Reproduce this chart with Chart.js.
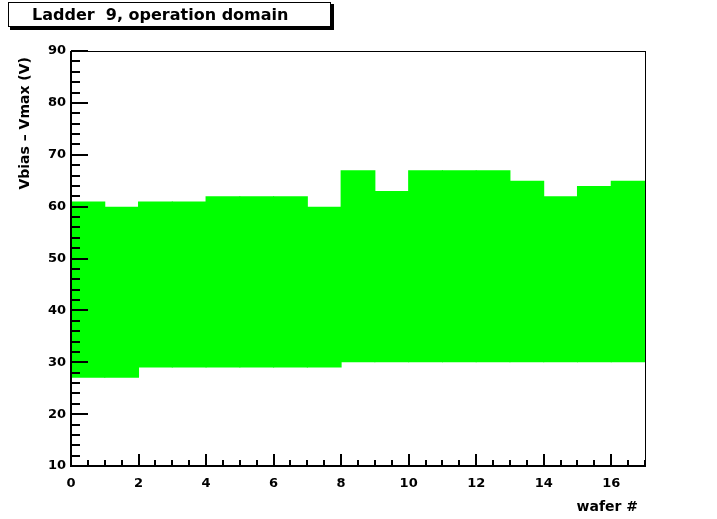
<!DOCTYPE html>
<html>
<head>
<meta charset="utf-8">
<script src="https://cdn.jsdelivr.net/npm/chart.js@4"></script>
<style>
  html, body { margin: 0; padding: 0; background: #fff; }
  canvas { display: block; }
</style>
</head>
<body>
<canvas id="domainChart" width="717" height="519"></canvas>
<script>
// wafer bins 0..16, each 1 wide
const wafers = [0, 1, 2, 3, 4, 5, 6, 7, 8, 9, 10, 11, 12, 13, 14, 15, 16];
const vLow  = [27, 27, 29, 29, 29, 29, 29, 29, 30, 30, 30, 30, 30, 30, 30, 30, 30];
const vHigh = [61, 60, 61, 61, 62, 62, 62, 60, 67, 63, 67, 67, 67, 65, 62, 64, 65];

const titleText = "Ladder  9, operation domain";
const xTitle = "wafer #";
const yTitle = "Vbias \u2013 Vmax (V)";

const FONT = "'DejaVu Sans', sans-serif";

// ROOT style frame, inner ticks, axis titles and title box
const rootStyle = {
  id: "rootStyle",
  afterDraw(chart) {
    const ctx = chart.ctx;
    const area = chart.chartArea;
    const xs = chart.scales.x;
    const ys = chart.scales.y;
    const L = Math.round(area.left), R = Math.round(area.right);
    const T = Math.round(area.top), B = Math.round(area.bottom);

    ctx.save();
    ctx.fillStyle = "#000";

    // frame: thin top/right, thicker axes left/bottom
    ctx.fillRect(L, T, R - L + 1, 1);
    ctx.fillRect(R, T, 1, B - T + 1);
    ctx.fillRect(L - 1, T, 2, B - T + 1);
    ctx.fillRect(L - 1, B - 1, R - L + 2, 2);

    // y ticks: major every 10, minor every 2
    for (let v = 10; v <= 90; v += 2) {
      const y = Math.round(ys.getPixelForValue(v));
      const len = v % 10 === 0 ? 17 : 9;
      ctx.fillRect(L, y - 1, len, 2);
    }
    // x ticks: major every 2, minor every 0.5
    for (let v = 0; v <= 17; v += 0.5) {
      const x = Math.round(xs.getPixelForValue(v));
      const len = v % 2 === 0 ? 12 : 6;
      ctx.fillRect(x - 1, B - len, 2, len);
    }

    // axis titles
    ctx.font = "bold 14px " + FONT;
    ctx.textAlign = "right";
    ctx.textBaseline = "alphabetic";
    ctx.fillText(xTitle, 638, 511);

    ctx.save();
    ctx.translate(29, 57);
    ctx.rotate(-Math.PI / 2);
    ctx.fillText(yTitle, 0, 0);
    ctx.restore();

    // title box with shadow
    ctx.fillRect(10, 4, 324, 26);
    ctx.fillStyle = "#fff";
    ctx.fillRect(8, 2, 323, 25);
    ctx.strokeStyle = "#000";
    ctx.lineWidth = 1;
    ctx.strokeRect(8.5, 2.5, 322, 24);
    ctx.fillStyle = "#000";
    ctx.font = "bold 16px " + FONT;
    ctx.textAlign = "left";
    ctx.fillText(titleText, 32, 20);

    ctx.restore();
  }
};

new Chart(document.getElementById("domainChart"), {
  type: "bar",
  data: {
    datasets: [
      {
        label: "operation domain",
        data: wafers.map((w, i) => ({ x: w + 0.5, y: [vLow[i], vHigh[i]] })),
        backgroundColor: "#00ff00",
        borderWidth: 0,
        barPercentage: 1.03,
        categoryPercentage: 1.0,
      },
    ],
  },
  options: {
    responsive: false,
    animation: false,
    layout: { padding: { top: 51, right: 72, left: 0, bottom: 0 } },
    plugins: {
      legend: { display: false },
      title: { display: false },
      tooltip: { enabled: false },
    },
    scales: {
      x: {
        type: "linear",
        min: 0,
        max: 17,
        offset: false,
        grid: { display: false, drawTicks: false, offset: false },
        border: { display: false },
        ticks: {
          stepSize: 2,
          includeBounds: false,
          color: "#000",
          padding: 10,
          maxRotation: 0,
          font: { family: FONT, weight: "bold", size: 13 },
        },
        afterFit(scale) { scale.height = 53; },
      },
      y: {
        type: "linear",
        min: 10,
        max: 90,
        grid: { display: false, drawTicks: false },
        border: { display: false },
        ticks: {
          stepSize: 10,
          includeBounds: false,
          color: "#000",
          padding: 5,
          font: { family: FONT, weight: "bold", size: 13 },
        },
        afterFit(scale) { scale.width = 71; },
      },
    },
  },
  plugins: [rootStyle],
});
</script>
</body>
</html>
